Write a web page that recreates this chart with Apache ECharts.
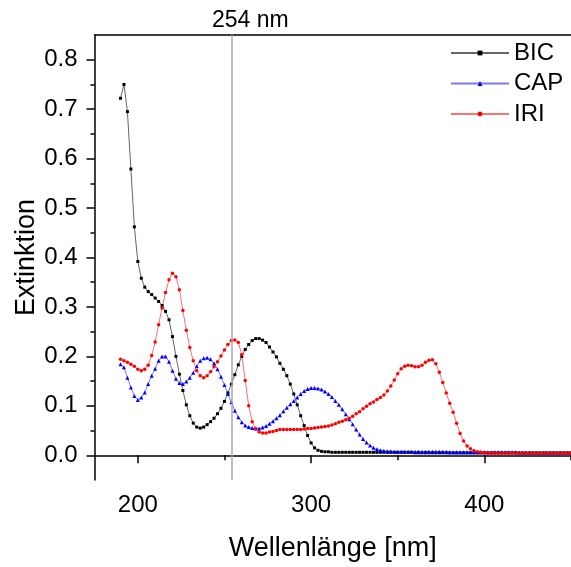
<!DOCTYPE html>
<html>
<head>
<meta charset="utf-8">
<script src="https://cdn.jsdelivr.net/npm/echarts@6/dist/echarts.min.js"></script>
<style>html,body{margin:0;padding:0;background:#fff;}#c{width:571px;height:567px;}</style>
</head>
<body>
<div id="c"></div>
<script>
const wavelengths = [190,192,194,196,198,200,202,204,206,208,210,212,214,216,218,220,222,224,226,228,230,232,234,236,238,240,242,244,246,248,250,252,254,256,258,260,262,264,266,268,270,272,274,276,278,280,282,284,286,288,290,292,294,296,298,300,302,304,306,308,310,312,314,316,318,320,322,324,326,328,330,332,334,336,338,340,342,344,346,348,350,352,354,356,358,360,362,364,366,368,370,372,374,376,378,380,382,384,386,388,390,392,394,396,398,400,402,404,406,408,410,412,414,416,418,420,422,424,426,428,430,432,434,436,438,440,442,444,446,448,450];

const bic = [0.722,0.750,0.695,0.579,0.462,0.392,0.358,0.340,0.331,0.325,
0.318,0.311,0.303,0.291,0.274,0.240,0.200,0.164,0.131,0.102,
0.080,0.065,0.057,0.055,0.057,0.062,0.068,0.075,0.084,0.095,
0.109,0.126,0.144,0.163,0.183,0.200,0.214,0.224,0.232,0.236,
0.236,0.233,0.228,0.219,0.209,0.199,0.186,0.174,0.161,0.144,
0.124,0.102,0.080,0.060,0.040,0.025,0.015,0.010,0.008,0.007,
0.007,0.006,0.006,0.006,0.006,0.006,0.006,0.006,0.006,0.006,
0.006,0.006,0.006,0.006,0.006,0.006,0.006,0.006,0.006,0.006,
0.006,0.006,0.006,0.006,0.006,0.005,0.005,0.005,0.005,0.005,
0.005,0.005,0.005,0.005,0.005,0.005,0.005,0.005,0.005,0.005,
0.005,0.005,0.005,0.005,0.005,0.005,0.005,0.005,0.005,0.005,
0.005,0.005,0.005,0.005,0.005,0.005,0.005,0.005,0.005,0.005,
0.005,0.005,0.005,0.005,0.005,0.005,0.005,0.005,0.005,0.005,
0.005];

const cap = [0.184,0.178,0.157,0.137,0.120,0.112,0.117,0.127,0.144,0.161,
0.175,0.191,0.200,0.200,0.189,0.171,0.155,0.146,0.144,0.149,
0.157,0.167,0.180,0.191,0.196,0.197,0.194,0.186,0.174,0.159,
0.142,0.124,0.107,0.090,0.077,0.067,0.060,0.057,0.055,0.054,
0.054,0.056,0.059,0.064,0.069,0.075,0.081,0.089,0.096,0.103,
0.110,0.117,0.124,0.130,0.134,0.136,0.136,0.135,0.133,0.129,
0.124,0.118,0.110,0.102,0.093,0.083,0.073,0.063,0.052,0.042,
0.033,0.026,0.020,0.015,0.012,0.010,0.009,0.008,0.008,0.007,
0.007,0.007,0.007,0.007,0.007,0.007,0.007,0.007,0.007,0.007,
0.007,0.007,0.007,0.007,0.007,0.006,0.006,0.006,0.006,0.006,
0.006,0.006,0.006,0.006,0.006,0.006,0.006,0.006,0.006,0.006,
0.006,0.006,0.006,0.006,0.006,0.005,0.005,0.005,0.005,0.005,
0.005,0.005,0.005,0.005,0.005,0.005,0.005,0.005,0.005,0.005,
0.005];

const iri = [0.194,0.191,0.188,0.184,0.180,0.174,0.171,0.174,0.182,0.202,
0.229,0.264,0.298,0.329,0.355,0.368,0.361,0.335,0.293,0.253,
0.218,0.191,0.171,0.161,0.157,0.161,0.169,0.179,0.189,0.201,
0.213,0.224,0.232,0.233,0.228,0.204,0.151,0.100,0.068,0.054,
0.047,0.045,0.045,0.047,0.048,0.050,0.052,0.052,0.052,0.052,
0.052,0.052,0.052,0.053,0.054,0.054,0.055,0.056,0.057,0.058,
0.059,0.061,0.064,0.067,0.069,0.072,0.075,0.079,0.084,0.088,
0.094,0.099,0.104,0.108,0.113,0.117,0.122,0.130,0.140,0.152,
0.165,0.175,0.180,0.182,0.181,0.179,0.179,0.182,0.188,0.192,
0.193,0.185,0.168,0.147,0.126,0.105,0.087,0.065,0.044,0.029,
0.019,0.013,0.009,0.007,0.006,0.005,0.004,0.004,0.004,0.004,
0.004,0.004,0.004,0.004,0.004,0.004,0.004,0.004,0.004,0.004,
0.004,0.004,0.004,0.004,0.004,0.004,0.004,0.004,0.004,0.004,
0.004];

const xMajorTicks = [200, 300, 400];
const xMinorTicks = [250, 350, 450];
const yMajorTicks = [0, 0.1, 0.2, 0.3, 0.4, 0.5, 0.6, 0.7, 0.8];
const yMinorTicks = [0.05, 0.15, 0.25, 0.35, 0.45, 0.55, 0.65, 0.75];
const markerWavelength = 254;
const markerLabel = '254 nm';

const FONT = '"Liberation Sans", Arial, sans-serif';
const chart = echarts.init(document.getElementById('c'), null, {renderer: 'canvas'});

function pairs(vals) { return wavelengths.map((w, i) => [w, vals[i]]); }

const axisLine = {show: true, lineStyle: {color: '#000', width: 1.5}};

chart.setOption({
  animation: false,
  backgroundColor: '#fff',
  grid: {left: 94.5, right: -1, top: 35, bottom: 85.3, containLabel: false},
  textStyle: {fontFamily: FONT},
  legend: {
    orient: 'vertical', left: 450, top: 41, padding: 0,
    itemWidth: 58, itemHeight: 6, itemGap: 6.5,
    textStyle: {fontSize: 24, color: '#000', fontFamily: FONT},
    data: ['BIC', 'CAP', 'IRI']
  },
  xAxis: [
    {type: 'value', min: 175, max: 450, position: 'bottom',
     axisLine: axisLine, splitLine: {show: false},
     axisTick: {show: true, customValues: xMajorTicks, length: 8, lineStyle: {color: '#000', width: 1.5}},
     axisLabel: {customValues: xMajorTicks, fontSize: 24, color: '#000', margin: 13, fontFamily: FONT},
     name: 'Wellenlänge [nm]', nameLocation: 'middle', nameGap: 55, nameMoveOverlap: false,
     nameTextStyle: {fontSize: 27, color: '#000', fontFamily: FONT}},
    {type: 'value', min: 175, max: 450, position: 'bottom',
     axisLine: {show: false}, splitLine: {show: false},
     axisTick: {show: true, customValues: xMinorTicks, length: 5, lineStyle: {color: '#000', width: 1.5}},
     axisLabel: {show: false}},
    {type: 'value', min: 175, max: 450, position: 'top',
     axisLine: axisLine, splitLine: {show: false},
     axisTick: {show: false}, axisLabel: {show: false}}
  ],
  yAxis: [
    {type: 'value', min: -0.05, max: 0.85, position: 'left',
     axisLine: axisLine, splitLine: {show: false},
     axisTick: {show: true, customValues: yMajorTicks, length: 8, lineStyle: {color: '#000', width: 1.5}},
     axisLabel: {customValues: yMajorTicks, fontSize: 24, color: '#000', margin: 17, fontFamily: FONT,
                 formatter: v => v.toFixed(1)},
     name: 'Extinktion', nameLocation: 'middle', nameGap: 54, nameMoveOverlap: false,
     nameTextStyle: {fontSize: 27, color: '#000', fontFamily: FONT}},
    {type: 'value', min: -0.05, max: 0.85, position: 'left',
     axisLine: {show: false}, splitLine: {show: false},
     axisTick: {show: true, customValues: yMinorTicks, length: 4, lineStyle: {color: '#000', width: 1.5}},
     axisLabel: {show: false}}
  ],
  graphic: [
    {type: 'text', left: 212, top: 9, style: {text: markerLabel, fontSize: 23, fill: '#000', font: '23px ' + FONT}}
  ],
  series: [
    {name: 'BIC', type: 'line', data: pairs(bic), symbol: 'rect', symbolSize: 3, showAllSymbol: true,
     lineStyle: {color: '#666', width: 1}, itemStyle: {color: '#000'}, z: 3,
     markLine: {silent: true, symbol: 'none', label: {show: false},
       lineStyle: {color: '#a8a8a8', width: 1.5, type: 'solid'},
       data: [{xAxis: markerWavelength}]}},
    {name: 'CAP', type: 'line', data: pairs(cap), symbol: 'triangle', symbolSize: 4, showAllSymbol: true,
     lineStyle: {color: '#7878ff', width: 1}, itemStyle: {color: '#0000ff'}, z: 3},
    {name: 'IRI', type: 'line', data: pairs(iri), symbol: 'circle', symbolSize: 3.5, showAllSymbol: true,
     lineStyle: {color: '#ff7070', width: 1}, itemStyle: {color: '#ff0000'}, z: 3}
  ]
});
</script>
</body>
</html>
